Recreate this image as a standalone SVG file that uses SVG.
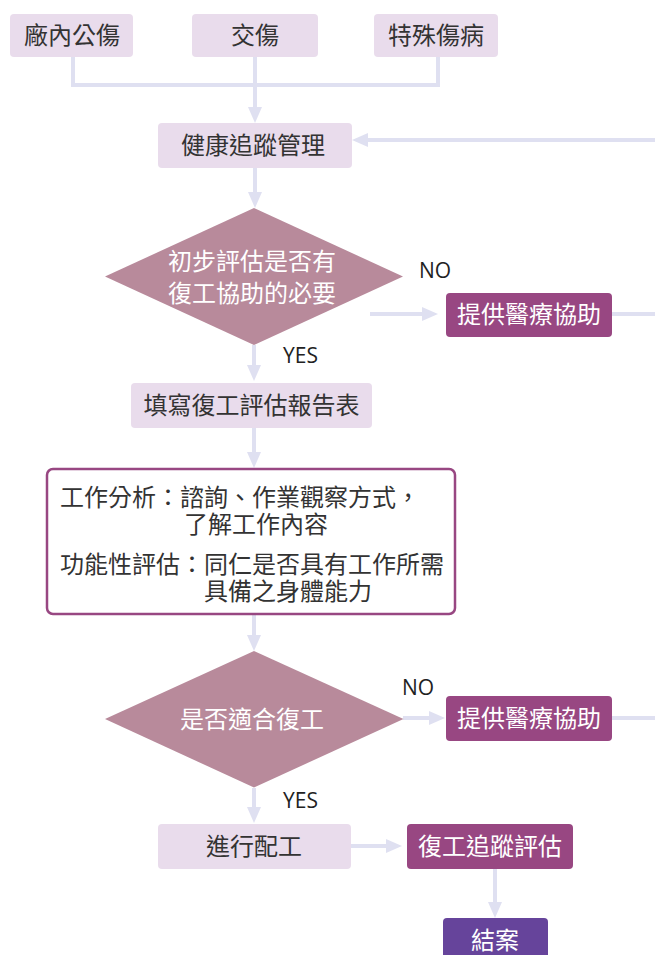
<svg xmlns="http://www.w3.org/2000/svg" width="655" height="955" viewBox="0 0 655 955">
<style>
.t{font-family:"Noto Sans CJK TC","Noto Sans CJK SC",sans-serif;font-size:24px;fill:#333;}
.w{fill:#fff;}
.m{text-anchor:middle;}
.lat{font-family:"Open Sans","Noto Sans",sans-serif;font-size:21px;fill:#222;}
.lb{fill:#e9dcec;}
.dk{fill:#984782;}
.dm{fill:#b88a9b;}
.c{stroke:#dfe0f1;stroke-width:4;fill:none;}
</style>
<defs>
<marker id="ah" viewBox="0 0 16 14" refX="6" refY="7" markerWidth="16" markerHeight="14" markerUnits="userSpaceOnUse" orient="auto">
<path d="M0,0 L16,7 L0,14 z" fill="#dfe0f1"/>
</marker>
</defs>
<rect width="655" height="955" fill="#fff"/>
<g id="connectors">
<polyline class="c" points="73,57 73,85 438,85 438,57"/>
<line class="c" x1="255" y1="57" x2="255" y2="113" marker-end="url(#ah)"/>
<line class="c" x1="660" y1="140" x2="362" y2="140" marker-end="url(#ah)"/>
<line class="c" x1="255" y1="168" x2="255" y2="198" marker-end="url(#ah)"/>
<line class="c" x1="370" y1="314" x2="428" y2="314" marker-end="url(#ah)"/>
<line class="c" x1="612" y1="314" x2="660" y2="314"/>
<line class="c" x1="254" y1="345" x2="254" y2="371" marker-end="url(#ah)"/>
<line class="c" x1="254" y1="428" x2="254" y2="458" marker-end="url(#ah)"/>
<line class="c" x1="254" y1="614" x2="254" y2="641" marker-end="url(#ah)"/>
<line class="c" x1="403" y1="718" x2="435" y2="718" marker-end="url(#ah)"/>
<line class="c" x1="612" y1="718" x2="660" y2="718"/>
<line class="c" x1="254" y1="788" x2="254" y2="813" marker-end="url(#ah)"/>
<line class="c" x1="351" y1="846" x2="392" y2="846" marker-end="url(#ah)"/>
<line class="c" x1="495" y1="869" x2="495" y2="908" marker-end="url(#ah)"/>
</g>
<g id="n_factory"><rect class="lb" x="10" y="14" width="123" height="43" rx="4"/><text class="t m" x="72" y="44">廠內公傷</text></g>
<g id="n_traffic"><rect class="lb" x="192" y="14" width="126" height="43" rx="4"/><text class="t m" x="255" y="44">交傷</text></g>
<g id="n_special"><rect class="lb" x="374" y="14" width="124" height="43" rx="4"/><text class="t m" x="436" y="44">特殊傷病</text></g>
<g id="n_health"><rect class="lb" x="158" y="123" width="194" height="45" rx="4"/><text class="t m" x="253" y="154">健康追蹤管理</text></g>
<g id="n_dec1"><polygon class="dm" points="254,208 403,276.5 254,345 105,276.5"/>
<text class="t w m" x="252" y="270">初步評估是否有</text><text class="t w m" x="252" y="302">復工協助的必要</text></g>
<text class="lat" x="419" y="278">NO</text>
<g id="n_med1"><rect class="dk" x="446" y="293" width="166" height="44" rx="4"/><text class="t w m" x="529" y="323">提供醫療協助</text></g>
<text class="lat" x="283" y="363">YES</text>
<g id="n_report"><rect class="lb" x="131" y="383" width="241" height="45" rx="4"/><text class="t m" x="251.5" y="414">填寫復工評估報告表</text></g>
<g id="n_detail"><rect x="47" y="469" width="408" height="145" rx="6" fill="#fff" stroke="#984782" stroke-width="2.5"/>
<text class="t" x="60" y="506">工作分析：諮詢、作業觀察方式，</text>
<text class="t" x="184" y="533">了解工作內容</text>
<text class="t" x="60" y="573">功能性評估：同仁是否具有工作所需</text>
<text class="t" x="204" y="600">具備之身體能力</text></g>
<g id="n_dec2"><polygon class="dm" points="254,651 403.5,719 254,787.5 105,719"/><text class="t w m" x="252" y="728">是否適合復工</text></g>
<text class="lat" x="402" y="695">NO</text>
<g id="n_med2"><rect class="dk" x="446" y="696" width="166" height="45" rx="4"/><text class="t w m" x="529" y="727">提供醫療協助</text></g>
<text class="lat" x="283" y="808">YES</text>
<g id="n_assign"><rect class="lb" x="158" y="824" width="193" height="45" rx="4"/><text class="t m" x="254" y="855">進行配工</text></g>
<g id="n_follow"><rect class="dk" x="407" y="824" width="166" height="45" rx="4"/><text class="t w m" x="490" y="855">復工追蹤評估</text></g>
<g id="n_close"><rect x="443" y="918" width="105" height="45" rx="4" fill="#66449b"/><text class="t w m" x="495" y="949">結案</text></g>
</svg>
